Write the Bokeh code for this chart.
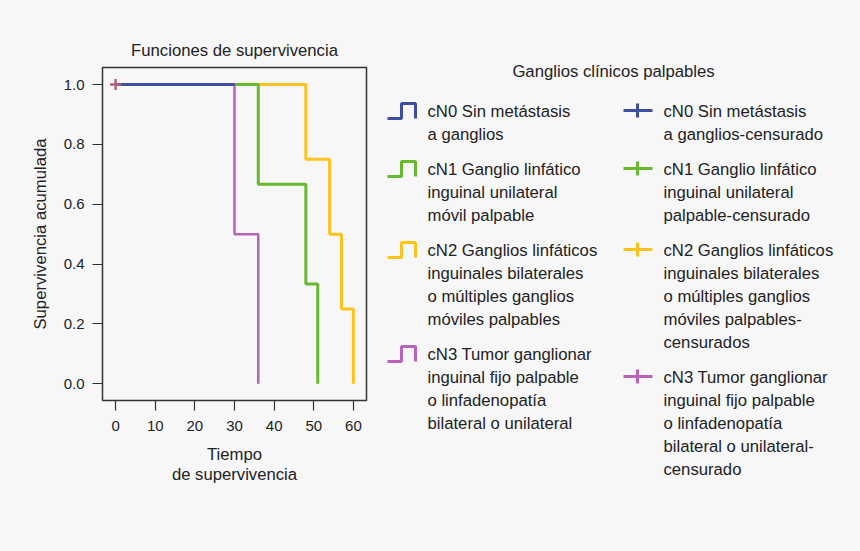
from bokeh.plotting import figure
from bokeh.layouts import row
from bokeh.models import Range1d, FixedTicker, NumeralTickFormatter
from bokeh.core.properties import value
from bokeh.embed import file_html
from bokeh.resources import INLINE

# ---------------- data ----------------
t_cn0 = [0, 30]
s_cn0 = [1.0, 1.0]
t_cn1 = [0, 36, 48, 51]
s_cn1 = [1.0, 0.667, 0.333, 0.0]
t_cn2 = [0, 48, 54, 57, 60]
s_cn2 = [1.0, 0.75, 0.5, 0.25, 0.0]
t_cn3 = [0, 30, 36]
s_cn3 = [1.0, 0.5, 0.0]
censor_t = [0]
censor_s = [1.0]

x_ticks = [0, 10, 20, 30, 40, 50, 60]
y_ticks = [0.0, 0.2, 0.4, 0.6, 0.8, 1.0]

colors = ["#3e4fa3", "#69b92f", "#fcc31d", "#b862b8"]
censor_color = "#b0607c"

group_labels = [
    "cN0 Sin metástasis\na ganglios",
    "cN1 Ganglio linfático\ninguinal unilateral\nmóvil palpable",
    "cN2 Ganglios linfáticos\ninguinales bilaterales\no múltiples ganglios\nmóviles palpables",
    "cN3 Tumor ganglionar\ninguinal fijo palpable\no linfadenopatía\nbilateral o unilateral",
]
censored_labels = [
    "cN0 Sin metástasis\na ganglios-censurado",
    "cN1 Ganglio linfático\ninguinal unilateral\npalpable-censurado",
    "cN2 Ganglios linfáticos\ninguinales bilaterales\no múltiples ganglios\nmóviles palpables-\ncensurados",
    "cN3 Tumor ganglionar\ninguinal fijo palpable\no linfadenopatía\nbilateral o unilateral-\ncensurado",
]
legend_title = "Ganglios clínicos palpables"

FONT = "Liberation Sans"
TXT = "#222222"
BG = "#f7f7f7"
BIG = "16.7px"

# ---------------- main plot ----------------
W, H = 860, 551
FL, FT, FW, FH = 102, 67, 264, 333
MW = 376

p = figure(
    width=MW, height=H,
    frame_width=FW, frame_height=FH,
    min_border_left=FL, min_border_right=MW - FL - FW,
    min_border_top=FT, min_border_bottom=H - FT - FH,
    x_range=Range1d(-3.3, 63.3), y_range=Range1d(-0.056, 1.057),
    output_backend="svg", toolbar_location=None,
    title="Funciones de supervivencia",
    frame_align=False,
)
p.background_fill_color = BG
p.border_fill_color = BG
p.outline_line_color = "#333333"
p.outline_line_width = 1.5
p.grid.visible = False

p.title.align = "center"
p.title.text_font = FONT
p.title.text_font_size = BIG
p.title.text_font_style = "normal"
p.title.text_color = TXT
p.title.standoff = 16

for ax in (p.xaxis[0], p.yaxis[0]):
    ax.axis_line_color = None
    ax.major_tick_in = 0
    ax.major_tick_out = 10
    ax.major_tick_line_color = "#333333"
    ax.major_tick_line_width = 1.2
    ax.minor_tick_line_color = None
    ax.major_label_text_font = FONT
    ax.major_label_text_font_size = "15px"
    ax.major_label_text_color = TXT
    ax.axis_label_text_font = FONT
    ax.axis_label_text_font_size = BIG
    ax.axis_label_text_font_style = "normal"
    ax.axis_label_text_color = TXT

p.xaxis.ticker = FixedTicker(ticks=x_ticks)
p.yaxis.ticker = FixedTicker(ticks=y_ticks)
p.yaxis.formatter = NumeralTickFormatter(format="0.0")
p.xaxis.axis_label = "Tiempo\nde supervivencia"
p.yaxis.axis_label = "Supervivencia acumulada"
p.xaxis.axis_label_text_line_height = 1.1
p.xaxis.major_label_standoff = 10
p.yaxis.major_label_standoff = 8
p.xaxis.axis_label_standoff = 11
p.yaxis.axis_label_standoff = 11

p.step(t_cn2, s_cn2, mode="after", line_color=colors[2], line_width=3)
p.step(t_cn1, s_cn1, mode="after", line_color=colors[1], line_width=3)
p.step(t_cn3, s_cn3, mode="after", line_color=colors[3], line_width=2.5)
p.step(t_cn0, s_cn0, mode="after", line_color=colors[0], line_width=3)
p.scatter(censor_t, censor_s, marker="cross", size=11, line_color=censor_color, line_width=2.5)

# ---------------- legend panel (page pixel coordinates) ----------------
LW = W - MW
lg = figure(
    width=LW, height=H, min_border=0,
    x_range=Range1d(MW, W), y_range=Range1d(H, 0),
    output_backend="svg", toolbar_location=None,
    x_axis_location=None, y_axis_location=None,
    frame_align=False,
)
lg.background_fill_color = BG
lg.border_fill_color = BG
lg.outline_line_color = None
lg.grid.visible = False

lg.text([613], [71], text=[legend_title], text_font=value(FONT), text_font_size=BIG,
        text_color=TXT, text_align="center", text_baseline="middle")

LINE = 23
GAP = 12
FIRST = 111


def column(labels, text_x, icon):
    y = FIRST
    xs, ys, texts = [], [], []
    for i, lab in enumerate(labels):
        lines = lab.split("\n")
        for k, ln in enumerate(lines):
            xs.append(text_x)
            ys.append(y + k * LINE)
            texts.append(ln)
        icon(i, y)
        y += len(lines) * LINE + GAP
    lg.text(xs, ys, text=texts, text_font=value(FONT), text_font_size=BIG,
            text_color=TXT, text_align="left", text_baseline="middle")


def step_icon(i, y):
    lg.line([387, 401, 401, 415, 415], [y + 7, y + 7, y - 8, y - 8, y + 7],
            line_color=colors[i], line_width=3)


def cross_icon(i, y):
    lg.line([623, 652], [y - 1, y - 1], line_color=colors[i], line_width=3)
    lg.line([637, 637], [y - 8, y + 6], line_color=colors[i], line_width=3)


column(group_labels, 427, step_icon)
column(censored_labels, 663, cross_icon)

layout = row(p, lg, spacing=0)
html = file_html(layout, INLINE)
html = html.replace("<head>", "<head><style>body{background:%s;}</style>" % BG, 1)
open("out.html", "w").write(html)
